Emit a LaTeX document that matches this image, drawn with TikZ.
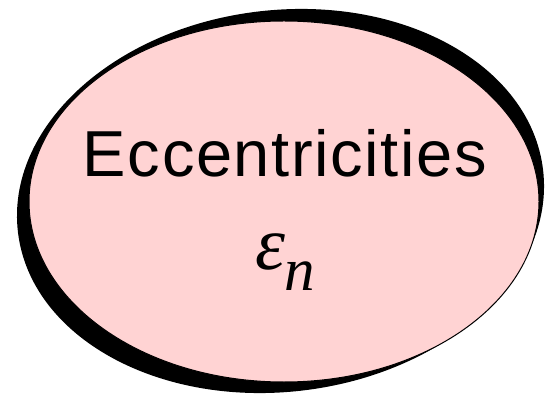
\documentclass[tikz,border=0pt]{standalone}
\usepackage{fontspec}
\setmainfont{Liberation Serif}
\newfontfamily\helv[LetterSpace=2.5]{Liberation Sans}
\definecolor{pinkfill}{RGB}{255,211,211}
\tikzset{
  titletext/.style={anchor=base, inner sep=0pt, font=\helv\fontsize{65}{65}\selectfont},
  mathtext/.style={anchor=base, inner sep=0pt}
}
\begin{document}
\begin{tikzpicture}[x=1pt,y=1pt]
\useasboundingbox (0,0) rectangle (545,396);
\fill[black, rotate around={6.8:(280.5,195)}] (280.5,195) ellipse [x radius=264.4, y radius=190.8];
\draw[line width=1pt, fill=pinkfill] (284,194.5) ellipse [x radius=255, y radius=180.5];
\node[titletext] (title) at (285,219) {Eccentricities};
\node[mathtext] (eps) at (270,126) {\fontsize{76}{76}\selectfont\textit{ε}};
\node[mathtext] (sub) at (299.5,106) {\fontsize{61}{61}\selectfont\textit{n}};
\end{tikzpicture}
\end{document}
